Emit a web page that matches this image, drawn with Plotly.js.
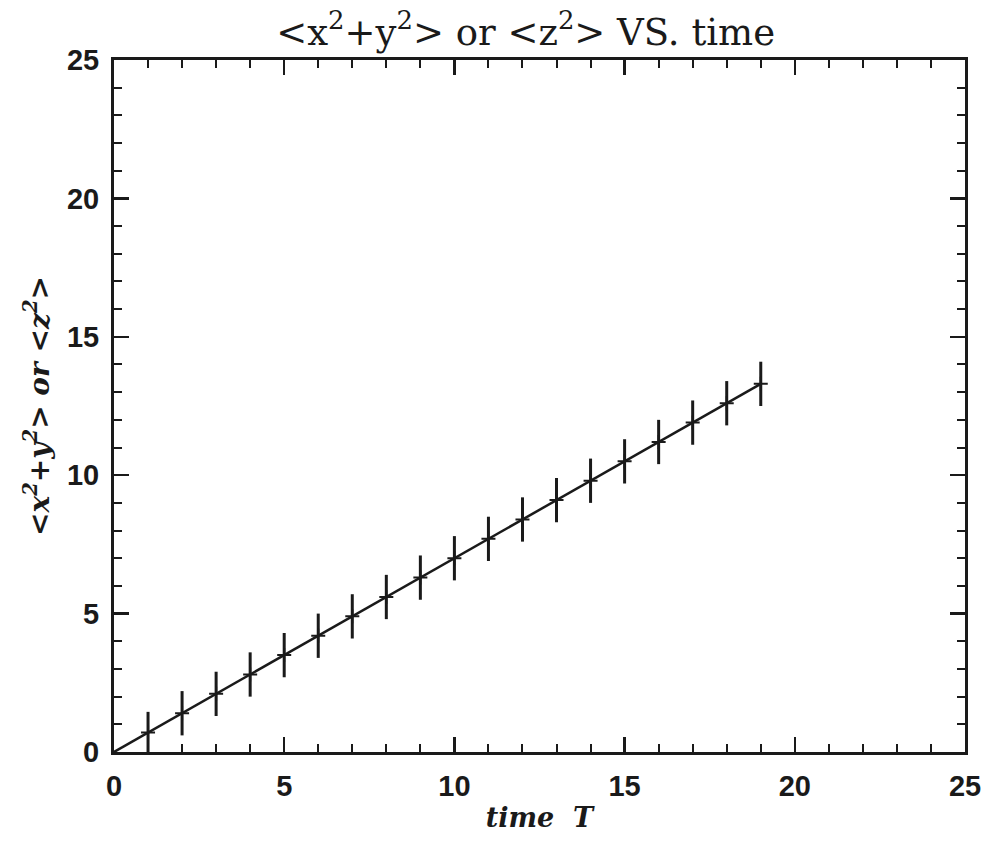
<!DOCTYPE html>
<html>
<head>
<meta charset="utf-8">
<script src="https://cdn.plot.ly/plotly-3.0.1.min.js"></script>
<style>html,body{margin:0;padding:0;background:#fff;}#chart{width:988px;height:842px;}</style>
</head>
<body>
<div id="chart"></div>
<script>
// Data
const timeT = [1, 2, 3, 4, 5, 6, 7, 8, 9, 10, 11, 12, 13, 14, 15, 16, 17, 18, 19];
const meanSq = [0.7, 1.4, 2.1, 2.8, 3.5, 4.2, 4.9, 5.6, 6.3, 7.0, 7.7, 8.4, 9.1, 9.8, 10.5, 11.2, 11.9, 12.6, 13.3];
const meanSqErr = [0.75, 0.8, 0.8, 0.8, 0.8, 0.8, 0.8, 0.8, 0.8, 0.8, 0.8, 0.8, 0.8, 0.8, 0.8, 0.8, 0.8, 0.8, 0.8];
const lineT = [0, 1, 2, 3, 4, 5, 6, 7, 8, 9, 10, 11, 12, 13, 14, 15, 16, 17, 18, 19];
const lineY = [0, 0.7, 1.4, 2.1, 2.8, 3.5, 4.2, 4.9, 5.6, 6.3, 7.0, 7.7, 8.4, 9.1, 9.8, 10.5, 11.2, 11.9, 12.6, 13.3];
const axisTicks = [0, 5, 10, 15, 20, 25];

const ink = '#1a1a1a';
const traces = [
  {
    x: lineT, y: lineY, type: 'scatter', mode: 'lines',
    line: {color: ink, width: 2.5}, hoverinfo: 'skip', showlegend: false
  },
  {
    x: timeT, y: meanSq, type: 'scatter', mode: 'markers',
    marker: {symbol: 'cross-thin', size: 10, color: ink, line: {color: ink, width: 2}},
    error_y: {type: 'data', array: meanSqErr, visible: true, color: ink, thickness: 3, width: 0},
    showlegend: false
  }
];

const tickFont = {family: "'Liberation Sans', Arial, sans-serif", size: 29, color: ink, weight: 'bold'};
const axisCommon = {
  range: [0, 25], tickvals: axisTicks, ticktext: axisTicks.map(String),
  ticks: 'inside', ticklen: 15, tickwidth: 2.5, tickcolor: ink,
  minor: {dtick: 1, tick0: 0, ticks: 'inside', ticklen: 8, tickwidth: 2, tickcolor: ink},
  showline: true, linecolor: ink, linewidth: 3, mirror: 'ticks',
  showgrid: false, zeroline: false, tickfont: tickFont, fixedrange: true
};

const layout = {
  width: 988, height: 842,
  margin: {l: 114, r: 23, t: 60, b: 90},
  paper_bgcolor: '#ffffff', plot_bgcolor: '#ffffff',
  title: {
    text: '&lt;x<sup>2</sup>+y<sup>2</sup>&gt; or &lt;z<sup>2</sup>&gt; VS. time',
    font: {family: "'DejaVu Serif', serif", size: 37, color: ink},
    xref: 'container', x: 0.532, xanchor: 'center',
    yref: 'container', y: 0.962, yanchor: 'middle'
  },
  xaxis: Object.assign({}, axisCommon, {
    ticklabelstandoff: 6,
    title: {text: '<b><i>time  T</i></b>', font: {family: "'DejaVu Serif', serif", size: 27, color: ink}, standoff: 8}
  }),
  yaxis: Object.assign({}, axisCommon, {
    ticklabelstandoff: 6,
    title: {text: '<b><i>&lt;x<sup>2</sup>+y<sup>2</sup>&gt; or &lt;z<sup>2</sup>&gt;</i></b>', font: {family: "'DejaVu Serif', serif", size: 28, color: ink}, standoff: 10}
  })
};

Plotly.newPlot('chart', traces, layout, {displayModeBar: false, staticPlot: true});
</script>
</body>
</html>
